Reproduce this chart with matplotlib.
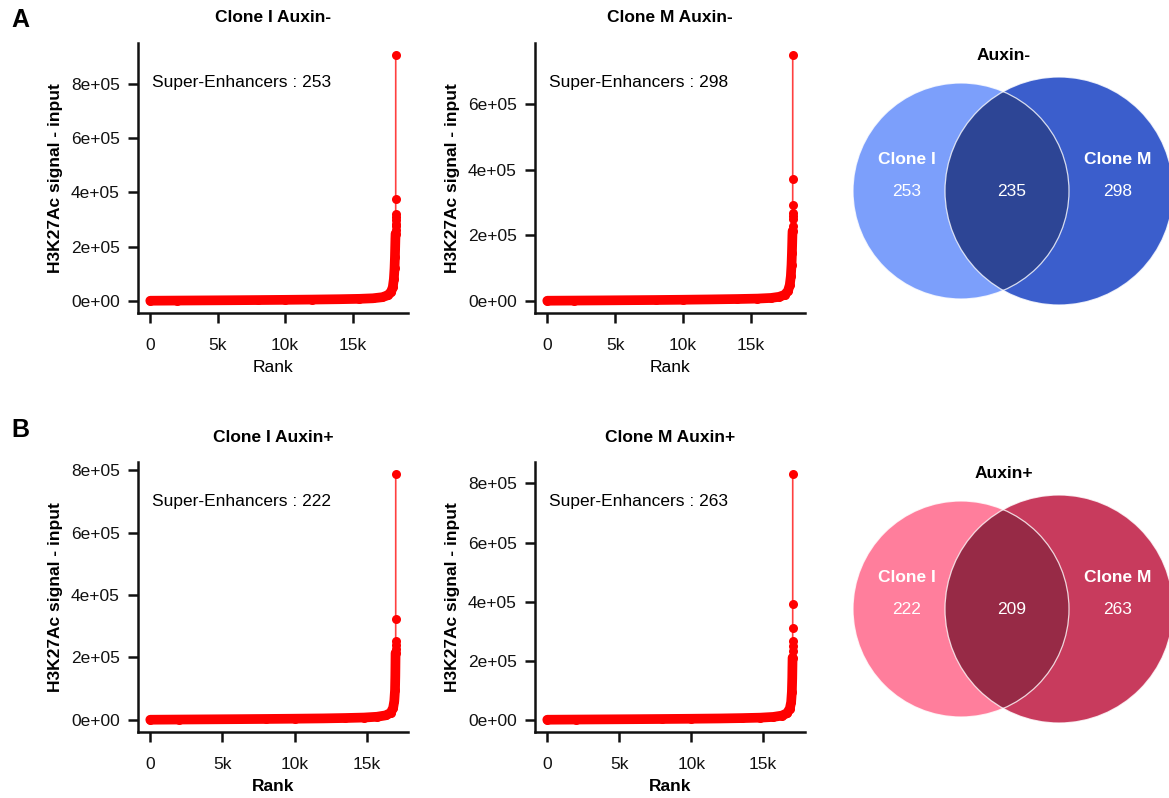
import matplotlib
matplotlib.use("Agg")
import matplotlib.pyplot as plt
from matplotlib.patches import Circle
import numpy as np

plt.rcParams['font.family'] = ['Liberation Sans', 'DejaVu Sans']

W, H = 1169, 798
RED = '#FF0000'

# ranked enhancer signal (H3K27Ac - input)
# bulk = the dense, continuous part of the curve; top = the few highest ranked ones
I_MINUS_N = 18200
I_MINUS_BULK_RANK = [0, 2000, 4000, 6000, 8000, 10000, 12000, 14000, 15500, 16500,
                     17200, 17600, 17850, 17980, 18060, 18110, 18140, 18160, 18175, 18188]
I_MINUS_BULK_SIG = [0, 600, 1200, 1800, 2500, 3300, 4300, 5600, 7000, 9000,
                    13000, 20000, 32000, 50000, 80000, 120000, 160000, 200000, 230000, 248000]
I_MINUS_TOP = [907000, 377000, 319000, 310000, 298000, 285000, 276000, 262000]

M_MINUS_N = 18100
M_MINUS_BULK_RANK = [0, 2000, 4000, 6000, 8000, 10000, 12000, 14000, 15500, 16500,
                     17100, 17500, 17750, 17880, 17960, 18010, 18040, 18060, 18075, 18088]
M_MINUS_BULK_SIG = [0, 500, 1000, 1600, 2200, 3000, 4000, 5200, 6500, 8500,
                    12000, 18000, 30000, 48000, 75000, 110000, 145000, 175000, 200000, 213000]
M_MINUS_TOP = [750000, 372000, 292000, 268000, 258000, 250000, 228000]

I_PLUS_N = 17000
I_PLUS_BULK_RANK = [0, 2000, 4000, 6000, 8000, 10000, 12000, 13500, 14800, 15700,
                    16300, 16650, 16820, 16900, 16950, 16970, 16980, 16988]
I_PLUS_BULK_SIG = [0, 600, 1200, 1800, 2500, 3300, 4300, 5500, 7000, 9500,
                   14000, 22000, 38000, 60000, 95000, 140000, 180000, 214000]
I_PLUS_TOP = [787000, 323000, 253000, 240000, 228000]

M_PLUS_N = 17050
M_PLUS_BULK_RANK = [0, 2000, 4000, 6000, 8000, 10000, 12000, 13500, 14800, 15700,
                    16300, 16650, 16850, 16940, 16990, 17015, 17028, 17038]
M_PLUS_BULK_SIG = [0, 600, 1200, 1800, 2500, 3300, 4300, 5500, 7000, 9500,
                   14000, 22000, 38000, 60000, 95000, 140000, 180000, 210000]
M_PLUS_TOP = [831000, 393000, 310000, 266000, 251000, 232000]

RANK_TICKS = [0, 5000, 10000, 15000]
RANK_TICK_LABELS = ['0', '5k', '10k', '15k']

PANELS = [
    # title, n, bulk ranks, bulk signal, top, super-enhancers, y ticks, position (px), bold x label
    ('Clone I Auxin-', I_MINUS_N, I_MINUS_BULK_RANK, I_MINUS_BULK_SIG, I_MINUS_TOP, 253,
     [0, 200000, 400000, 600000, 800000], (138, 43), False),
    ('Clone M Auxin-', M_MINUS_N, M_MINUS_BULK_RANK, M_MINUS_BULK_SIG, M_MINUS_TOP, 298,
     [0, 200000, 400000, 600000], (535, 43), False),
    ('Clone I Auxin+', I_PLUS_N, I_PLUS_BULK_RANK, I_PLUS_BULK_SIG, I_PLUS_TOP, 222,
     [0, 200000, 400000, 600000, 800000], (138, 462), True),
    ('Clone M Auxin+', M_PLUS_N, M_PLUS_BULK_RANK, M_PLUS_BULK_SIG, M_PLUS_TOP, 263,
     [0, 200000, 400000, 600000, 800000], (535, 462), True),
]

# venn counts
VENN_SETS = ['Clone I', 'Clone M']
VENN_MINUS = [253, 235, 298]
VENN_PLUS = [222, 209, 263]


def px_axes(fig, left, top, w, h):
    return fig.add_axes([left / W, 1 - (top + h) / H, w / W, h / H])


def plot_rank(fig, title, n, bulk_rank, bulk_sig, top, n_se, yticks, pos, bold_x):
    ax = px_axes(fig, pos[0], pos[1], 270, 270)
    top_rank = [n - 1 - i for i in range(len(top))]
    ranks = np.array(bulk_rank + top_rank[::-1])
    sig = np.array(bulk_sig + top[::-1])

    ax.plot(ranks, sig, color=RED, lw=1.2, alpha=0.75, zorder=2)
    ax.plot(bulk_rank, bulk_sig, color=RED, lw=7, solid_capstyle='round',
            solid_joinstyle='round', zorder=3)
    ax.plot(ranks, sig, 'o', color=RED, ms=6.5, mec='none', zorder=4)

    # ggplot-like 5% expansion
    xr = ranks.max() - 0
    yr = sig.max() - 0
    ax.set_xlim(-0.05 * xr, ranks.max() + 0.05 * xr)
    ax.set_ylim(-0.05 * yr, sig.max() + 0.05 * yr)

    ax.set_xticks(RANK_TICKS)
    ax.set_xticklabels(RANK_TICK_LABELS)
    ax.set_yticks(yticks)
    ax.set_yticklabels([f'{v:.0e}' for v in yticks])

    for s in ['top', 'right']:
        ax.spines[s].set_visible(False)
    for s in ['left', 'bottom']:
        ax.spines[s].set_linewidth(1.8)
        ax.spines[s].set_color('#111111')
    ax.tick_params(width=1.8, length=7, pad=6, labelsize=12.5, colors='#111111')
    ax.tick_params(axis='x', pad=11)

    ax.set_xlabel('Rank', fontsize=12.5, labelpad=5,
                  fontweight='bold' if bold_x else 'normal')
    ax.set_ylabel('H3K27Ac signal - input', fontsize=12.5, fontweight='bold', labelpad=6)
    ax.text(0.5, 1 + 25 / 270, title, transform=ax.transAxes, ha='center', va='center',
            fontsize=12.5, fontweight='bold')
    ax.text(0.052, 0.855, f'Super-Enhancers : {n_se}', transform=ax.transAxes,
            ha='left', va='center', fontsize=12.5)
    return ax


def plot_venn(ax, counts, title, cy, c_left, c_right, c_mid, title_y):
    left = Circle((961, cy), 108, facecolor=c_left, edgecolor='none', zorder=1)
    right = Circle((1059, cy), 114, facecolor=c_right, edgecolor='none', zorder=1)
    ax.add_patch(left)
    ax.add_patch(right)
    mid = Circle((1059, cy), 114, facecolor=c_mid, edgecolor='none', zorder=2)
    ax.add_patch(mid)
    mid.set_clip_path(Circle((961, cy), 108, transform=ax.transData))
    for c in [(961, cy, 108), (1059, cy, 114)]:
        ax.add_patch(Circle(c[:2], c[2], facecolor='none', edgecolor='white',
                            lw=0.9, alpha=0.8, zorder=3))

    ax.text(1004, title_y, title, ha='center', va='center', fontsize=12.5, fontweight='bold')
    ax.text(907, cy - 31, VENN_SETS[0], ha='center', va='center', color='white',
            fontsize=12.5, fontweight='bold')
    ax.text(1118, cy - 31, VENN_SETS[1], ha='center', va='center', color='white',
            fontsize=12.5, fontweight='bold')
    ax.text(907, cy + 1, str(counts[0]), ha='center', va='center', color='white', fontsize=12.5)
    ax.text(1012, cy + 1, str(counts[1]), ha='center', va='center', color='white', fontsize=12.5)
    ax.text(1118, cy + 1, str(counts[2]), ha='center', va='center', color='white', fontsize=12.5)


fig = plt.figure(figsize=(W / 100, H / 100), dpi=100)

for p in PANELS:
    plot_rank(fig, *p)

vax = fig.add_axes([820 / W, 0, (W - 820) / W, 1])
vax.set_xlim(820, W)
vax.set_ylim(H, 0)
vax.axis('off')
plot_venn(vax, VENN_MINUS, 'Auxin-', 191, '#7C9FFB', '#3B5ECC', '#2D4595', 56)
plot_venn(vax, VENN_PLUS, 'Auxin+', 609, '#FF7E9C', '#C83B5D', '#972A46', 473)

fig.text(20 / W, 1 - 20 / H, 'A', fontsize=18, fontweight='bold', ha='center', va='center')
fig.text(20 / W, 1 - 430 / H, 'B', fontsize=18, fontweight='bold', ha='center', va='center')

fig.savefig('out.png', dpi=100, facecolor='white')
